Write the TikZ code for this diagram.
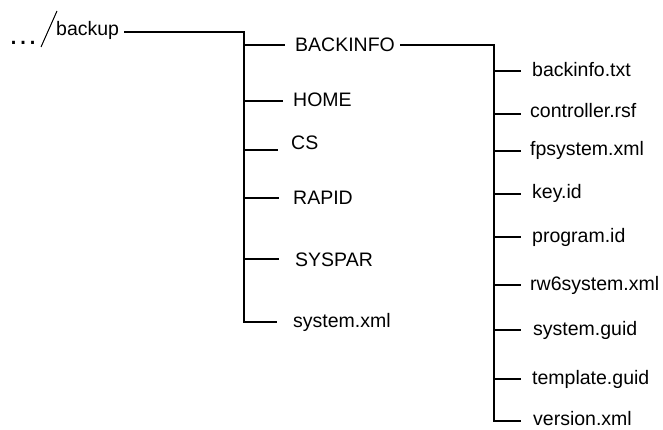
\documentclass[tikz,border=0pt]{standalone}
\usepackage{fontspec}
\setmainfont{Liberation Sans}
\begin{document}
\begin{tikzpicture}[x=1pt,y=-1pt,
  lbl/.style={anchor=base west, inner sep=0pt, font=\fontsize{19.5}{22}\selectfont},
  wire/.style={line width=1.1pt, line cap=butt, line join=miter}]
\useasboundingbox (0,0) rectangle (663,430);
% root
\node[lbl, font=\fontsize{30}{32}\selectfont] (dots) at (8,44.5) {…};
\coordinate (sl1) at (41,47);
\coordinate (sl2) at (57,11);
\draw[line width=1pt] (sl1) -- (sl2);
\node[lbl] (backup) at (56,36) {backup};
% level 1
\node[lbl] (backinfo) at (295,52) {BACKINFO};
\node[lbl] (home) at (293,107) {HOME};
\node[lbl] (cs) at (291,150) {CS};
\node[lbl] (rapid) at (293,205) {RAPID};
\node[lbl] (syspar) at (295,266) {SYSPAR};
\node[lbl] (sysxml) at (293,327) {system.xml};
% level 2
\node[lbl] (f1) at (532,77) {backinfo.txt};
\node[lbl] (f2) at (530,118) {controller.rsf};
\node[lbl] (f3) at (530,156) {fpsystem.xml};
\node[lbl] (f4) at (532,199) {key.id};
\node[lbl] (f5) at (532,242) {program.id};
\node[lbl] (f6) at (530,290) {rw6system.xml};
\node[lbl] (f7) at (533,335) {system.guid};
\node[lbl] (f8) at (532,384) {template.guid};
\node[lbl] (f9) at (533,425) {version.xml};
% trunk 1
\coordinate (bk-out) at (124,32);
\coordinate (t1top) at (244,32);
\coordinate (t1bot) at (244,322);
\coordinate (sysxml-in) at (277,322);
\draw[wire] (bk-out) -- (t1top) -- (t1bot) -- (sysxml-in);
\coordinate (backinfo-in) at (285,45);
\coordinate (home-in) at (283,101);
\coordinate (cs-in) at (278,150);
\coordinate (rapid-in) at (279,198);
\coordinate (syspar-in) at (279,259);
\foreach \c in {backinfo-in,home-in,cs-in,rapid-in,syspar-in}
  \draw[wire] (t1top |- \c) -- (\c);
% trunk 2
\coordinate (bi-out) at (400,45);
\coordinate (t2top) at (494,45);
\coordinate (t2bot) at (494,421);
\coordinate (f9-in) at (521,421);
\draw[wire] (bi-out) -- (t2top) -- (t2bot) -- (f9-in);
\coordinate (f1-in) at (521,71);
\coordinate (f2-in) at (521,114);
\coordinate (f3-in) at (521,151);
\coordinate (f4-in) at (521,194);
\coordinate (f5-in) at (521,237);
\coordinate (f6-in) at (521,285);
\coordinate (f7-in) at (521,330);
\coordinate (f8-in) at (521,379);
\foreach \c in {f1-in,f2-in,f3-in,f4-in,f5-in,f6-in,f7-in,f8-in}
  \draw[wire] (t2top |- \c) -- (\c);
\end{tikzpicture}
\end{document}
